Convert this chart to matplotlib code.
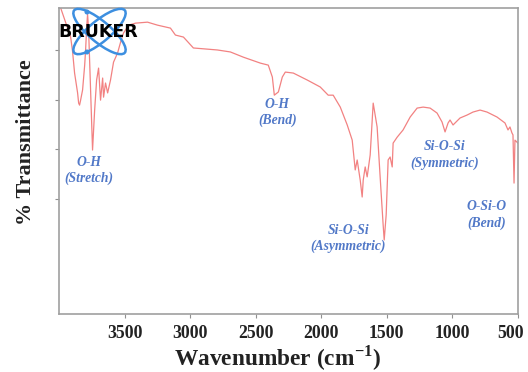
import matplotlib
matplotlib.use("Agg")
import matplotlib.pyplot as plt
import matplotlib.transforms as mtransforms
from matplotlib.patches import Ellipse, Circle

# FTIR spectrum (wavenumber in cm-1, transmittance arb. %)
wavenumber = [3987, 3911, 3896, 3881, 3858, 3850, 3843, 3835, 3820, 3804,
              3797, 3789, 3782, 3774, 3759, 3744, 3728, 3713, 3698, 3683,
              3667, 3660, 3645, 3629, 3607, 3584, 3553, 3530, 3508, 3469,
              3416, 3325, 3249, 3150, 3112, 3051, 2975, 2792, 2693, 2594,
              2464, 2404, 2373, 2358, 2327, 2297, 2274, 2213, 2107, 2008,
              1947, 1909, 1855, 1802, 1764, 1741, 1726, 1703, 1688, 1680,
              1665, 1650, 1627, 1604, 1574, 1551, 1528, 1520, 1505, 1490,
              1475, 1459, 1452, 1421, 1376, 1322, 1269, 1223, 1170, 1117,
              1079, 1056, 1033, 1018, 995, 942, 888, 843, 789, 736,
              660, 599, 576, 561, 546, 538, 530, 523, 508, 500]
transmittance = [96.9, 85.2, 79.2, 70.7, 62.7, 58.6, 57.8, 59.8, 63.9, 73.9,
                 80.0, 88.8, 94.4, 88.0, 63.9, 39.7, 55.8, 67.9, 72.7, 59.8,
                 68.7, 61.0, 66.7, 62.7, 67.9, 75.1, 78.8, 83.2, 86.8, 90.0,
                 90.8, 91.2, 90.0, 88.8, 86.0, 85.2, 80.8, 80.0, 79.2, 77.1,
                 74.7, 73.9, 69.1, 61.8, 63.1, 69.1, 71.1, 70.7, 67.9, 65.1,
                 61.8, 61.8, 57.0, 49.8, 43.7, 31.7, 35.7, 27.6, 20.8, 27.6,
                 32.9, 28.9, 37.7, 58.6, 49.0, 28.9, 9.5, 3.5, 13.6, 35.7,
                 36.9, 32.9, 42.5, 44.9, 47.8, 53.0, 56.6, 57.0, 56.6, 54.6,
                 51.0, 47.0, 50.6, 51.8, 49.8, 52.6, 53.8, 55.0, 55.8, 55.0,
                 53.0, 50.6, 47.8, 49.0, 46.6, 45.8, 26.4, 43.7, 42.9, 42.5]

# band labels: (text, wavenumber, transmittance of label centre)
bands = [("O-H\n(Stretch)", 3774, 31.5),
         ("O-H\n(Bend)", 2335, 54.8),
         ("Si-O-Si\n(Symmetric)", 1056, 37.7),
         ("Si-O-Si\n(Asymmetric)", 1794, 4.1),
         ("O-Si-O\n(Bend)", 736, 13.6)]

xticks = [3500, 3000, 2500, 2000, 1500, 1000, 500]
yticks = [20, 40, 60, 80]

plt.rcParams["mathtext.fontset"] = "custom"
plt.rcParams["mathtext.rm"] = "Liberation Serif:bold"

fig = plt.figure(figsize=(5.28, 3.72), dpi=100)
ax = fig.add_axes([0.1117, 0.156, 0.8693, 0.8225])

ax.plot(wavenumber, transmittance, color="#f28282", lw=0.9)

for label, x, y in bands:
    ax.text(x, y, label, ha="center", va="center", color="#5279c8",
            family="Liberation Serif", style="italic", fontweight="bold",
            fontsize=9.8, linespacing=1.3)

ax.set_xlim(4000, 500)
ax.set_ylim(-26.3, 96.9)
ax.set_xticks(xticks)
ax.set_xticklabels([str(t) for t in xticks])
ax.set_yticks(yticks)
ax.set_yticklabels([])
ax.tick_params(length=3, width=0.8, color="#909090", pad=5)
for lab in ax.get_xticklabels():
    lab.set_family("Liberation Serif")
    lab.set_fontweight("bold")
    lab.set_fontsize(12.8)
    lab.set_color("#222222")
# the last label sits a little left of its tick, as in the reference
last = ax.get_xticklabels()[-1]
last.set_transform(last.get_transform() +
                   mtransforms.ScaledTranslation(-7 / 100, 0, fig.dpi_scale_trans))
for sp in ax.spines.values():
    sp.set_color("#a0a0a0")
    sp.set_linewidth(1.2)

ax.set_xlabel("Wavenumber (cm$^{-1}$)", family="Liberation Serif",
              fontweight="bold", fontsize=16.8, color="#222222", labelpad=1)
ax.xaxis.label.set_x(0.476)
ax.set_ylabel("% Transmittance", family="Liberation Serif",
              fontweight="bold", fontsize=16, color="#222222")
ax.yaxis.set_label_coords(-0.05, 0.562)

# Bruker logo in the corner
logo = fig.add_axes([60 / 528, 1 - 56 / 372, 77 / 528, 50 / 372])
logo.set_xlim(0, 77)
logo.set_ylim(0, 50)
logo.axis("off")
for ang in (40, -40):
    logo.add_patch(Ellipse((39.5, 24.5), 66, 21, angle=ang, fill=False,
                           ec="#3d8fe0", lw=1.8))
for cy in (44, 4):
    logo.add_patch(Circle((27, cy), 1.8, color="#3d8fe0"))
logo.text(38.5, 24, "BRUKER", ha="center", va="center", color="black",
          family="DejaVu Sans", fontweight="bold", fontsize=12.5)

fig.savefig("out.png", dpi=100)
